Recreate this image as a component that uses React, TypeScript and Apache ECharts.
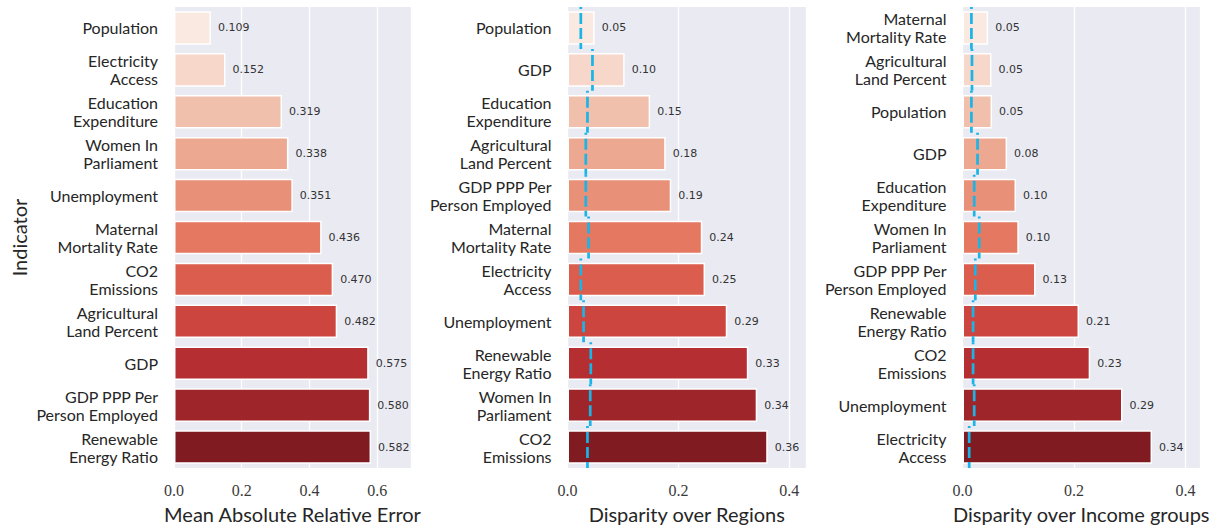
import React, { useEffect, useRef } from "react";
import * as echarts from "echarts";

const cats1 = [
  "Population",
  "Electricity\nAccess",
  "Education\nExpenditure",
  "Women In\nParliament",
  "Unemployment",
  "Maternal\nMortality Rate",
  "CO2\nEmissions",
  "Agricultural\nLand Percent",
  "GDP",
  "GDP PPP Per\nPerson Employed",
  "Renewable\nEnergy Ratio",
];
const vals1 = [0.109, 0.152, 0.319, 0.338, 0.351, 0.436, 0.47, 0.482, 0.575, 0.58, 0.582];

const cats2 = [
  "Population",
  "GDP",
  "Education\nExpenditure",
  "Agricultural\nLand Percent",
  "GDP PPP Per\nPerson Employed",
  "Maternal\nMortality Rate",
  "Electricity\nAccess",
  "Unemployment",
  "Renewable\nEnergy Ratio",
  "Women In\nParliament",
  "CO2\nEmissions",
];
const vals2 = [0.049, 0.103, 0.149, 0.177, 0.187, 0.243, 0.248, 0.288, 0.326, 0.342, 0.361];
const ref2 = [0.024, 0.045, 0.036, 0.033, 0.033, 0.038, 0.024, 0.029, 0.042, 0.041, 0.036];

const cats3 = [
  "Maternal\nMortality Rate",
  "Agricultural\nLand Percent",
  "Population",
  "GDP",
  "Education\nExpenditure",
  "Women In\nParliament",
  "GDP PPP Per\nPerson Employed",
  "Renewable\nEnergy Ratio",
  "CO2\nEmissions",
  "Unemployment",
  "Electricity\nAccess",
];
const vals3 = [0.046, 0.052, 0.053, 0.08, 0.096, 0.101, 0.131, 0.209, 0.229, 0.287, 0.34];
const ref3 = [0.016, 0.017, 0.016, 0.027, 0.021, 0.03, 0.023, 0.019, 0.019, 0.021, 0.012];

const palette = [
  "#fae9e0", "#f6d7c9", "#f1c0ac", "#eda891", "#e99078", "#e57860",
  "#db5d4e", "#cc453f", "#b52e32", "#9e262b", "#7f1b21",
];

const titles = ["Mean Absolute Relative Error", "Disparity over Regions", "Disparity over Income groups"];

const SANS = "Lato";
const TEXT = "#262626";
const BG = "#EAEAF2";
const BLUE = "#19b4e8";

export default function App() {
  const ref = useRef<HTMLDivElement>(null);
  useEffect(() => {
    if (!ref.current) return;
    const chart = echarts.init(ref.current, undefined, { renderer: "svg" });

    const grids = [
      { left: 174, top: 7, width: 237, height: 462 },
      { left: 567.5, top: 7, width: 238.5, height: 462 },
      { left: 962.5, top: 7, width: 237.5, height: 462 },
    ].map((g) => ({ ...g, show: true, backgroundColor: BG, borderWidth: 0 }));

    const maxes = [0.7, 0.43, 0.426];
    const catsAll = [cats1, cats2, cats3];
    const valsAll = [vals1, vals2, vals3];
    const decimals = [3, 2, 2];

    const xAxes = maxes.map((mx, i) => ({
      type: "value",
      gridIndex: i,
      min: 0,
      max: mx,
      interval: 0.2,
      axisLine: { show: false },
      axisTick: { show: false },
      splitLine: { show: true, lineStyle: { color: "#ffffff", width: 1.3 } },
      axisLabel: {
        formatter: (v: number) => v.toFixed(1),
        fontFamily: "Liberation Serif",
        fontSize: 16,
        color: "#3a3a3a",
        margin: 14,
        showMaxLabel: false,
      },
      name: titles[i],
      nameLocation: "middle",
      nameGap: 36,
      nameTextStyle: { fontFamily: SANS, fontSize: 20, color: TEXT },
    }));

    const yAxes = catsAll.map((cats, i) => ({
      type: "category",
      gridIndex: i,
      data: cats,
      inverse: true,
      axisLine: { show: false },
      axisTick: { show: false },
      splitLine: { show: false },
      axisLabel: {
        fontFamily: SANS,
        fontSize: 16,
        color: TEXT,
        margin: 16,
        lineHeight: 18,
        align: "right",
      },
      ...(i === 0
        ? {
            name: "Indicator",
            nameLocation: "middle",
            nameRotate: 90,
            nameGap: 145,
            nameTextStyle: { fontFamily: SANS, fontSize: 20, color: TEXT },
          }
        : {}),
    }));

    const barSeries = valsAll.map((vals, i) => ({
      type: "bar",
      xAxisIndex: i,
      yAxisIndex: i,
      barWidth: "80%",
      data: vals.map((v, j) => ({ value: v, itemStyle: { color: palette[j] } })),
      itemStyle: { borderColor: "#ffffff", borderWidth: 1.5 },
      label: {
        show: true,
        position: "right",
        distance: 7,
        formatter: (p: any) => Number(p.value).toFixed(decimals[i]),
        fontFamily: "DejaVu Sans",
        fontSize: 11,
        color: "#333333",
      },
      z: 2,
    }));

    const makeRef = (refs: number[], idx: number) => ({
      type: "custom",
      xAxisIndex: idx,
      yAxisIndex: idx,
      data: refs.map((v, j) => [v, j]),
      encode: { x: 0, y: 1 },
      renderItem: (_params: any, api: any) => {
        const c = api.coord([api.value(0), api.value(1)]);
        const h = api.size([0, 1])[1];
        return {
          type: "line",
          shape: { x1: c[0], y1: c[1] - h / 2, x2: c[0], y2: c[1] + h / 2 },
          style: { stroke: BLUE, lineWidth: 2.7, lineDash: [11, 4], lineDashOffset: 9 },
        };
      },
      z: 5,
    });

    chart.setOption({
      animation: false,
      grid: grids,
      xAxis: xAxes,
      yAxis: yAxes,
      series: [...barSeries, makeRef(ref2, 1), makeRef(ref3, 2)],
    });

    return () => chart.dispose();
  }, []);

  return (
    <div
      ref={ref}
      style={{ position: "fixed", left: 0, top: 0, width: 1219, height: 529, background: "#ffffff" }}
    />
  );
}
